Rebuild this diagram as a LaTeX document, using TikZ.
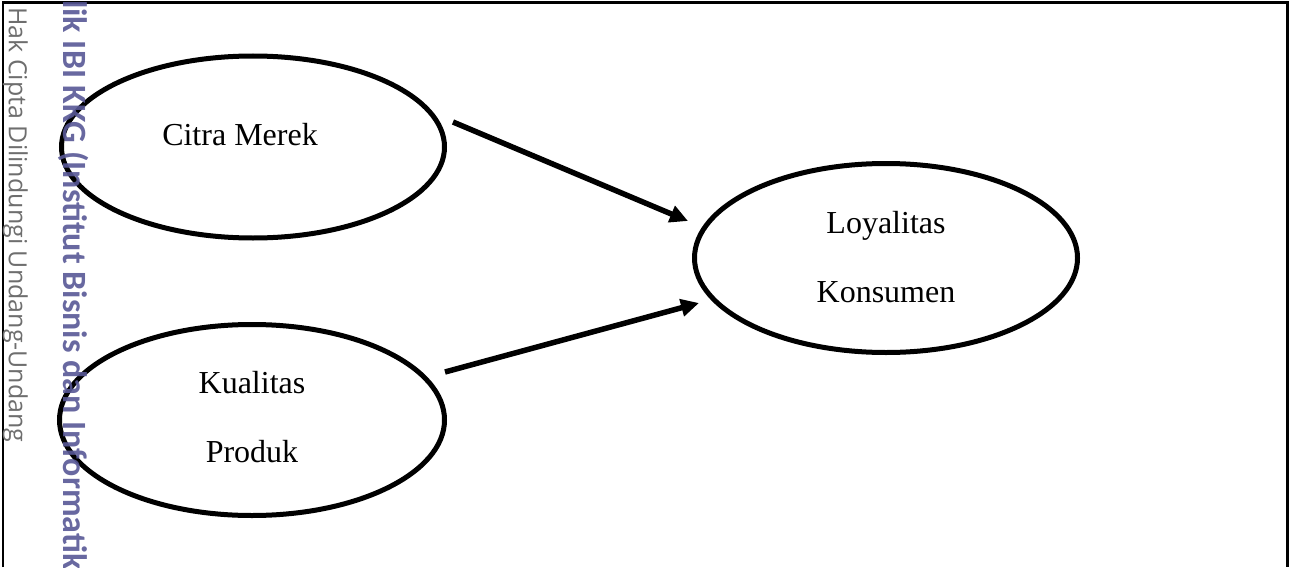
\documentclass[tikz,border=0pt]{standalone}
\usepackage{fontspec}
\setmainfont{Liberation Serif}
\newfontfamily\wmfont{Open Sans}
\newfontfamily\wmbfont{Carlito}
\usetikzlibrary{arrows.meta,shapes.geometric}
\definecolor{wmgray}{RGB}{110,110,110}
\definecolor{wmblue}{RGB}{88,88,150}
\begin{document}
\begin{tikzpicture}[x=1pt,y=-1pt,
  oval/.style={draw, ellipse, line width=5pt, inner sep=0pt},
  lbl/.style={font=\fontsize{32}{38}\selectfont, inner sep=0pt, anchor=base},
  arr/.style={line width=5.5pt, -{Triangle[length=18pt,width=17pt]}},
  wmA/.style={font=\wmfont\fontsize{25}{30}\selectfont, text=wmgray, inner sep=0pt, rotate=-90, anchor=base west},
  wmB/.style={font=\wmbfont\bfseries\fontsize{34}{40}\selectfont, text=wmblue, inner sep=0pt, rotate=-90, anchor=base west, opacity=0.9}]
\useasboundingbox (0,0) rectangle (1297,567);
\clip (0,0) rectangle (1297,567);
% frame
\draw[line width=1.5pt] (3,567) -- (3,3);
\draw[line width=3pt] (2,3) -- (1287,3) -- (1287,567);
% ellipses
\node[oval, minimum width=383pt, minimum height=182pt] (cm) at (253,147) {};
\node[oval, minimum width=383pt, minimum height=189pt] (lk) at (886,258) {};
\node[oval, minimum width=385pt, minimum height=191pt] (kp) at (252,420) {};
% labels
\node[lbl] (t1) at (240,146) {Citra Merek};
\node[lbl] (t2) at (886,233) {Loyalitas};
\node[lbl] (t3) at (886,302) {Konsumen};
\node[lbl] (t4) at (252,393) {Kualitas};
\node[lbl] (t5) at (252,462) {Produk};
% arrows
\coordinate (a1s) at (453,122);
\coordinate (a1e) at (688,221);
\coordinate (a2s) at (445,372);
\coordinate (a2e) at (699,303);
\draw[arr] (a1s) -- (a1e);
\draw[arr] (a2s) -- (a2e);
% watermarks
\node[wmA] (w1) at (9,7) {Hak Cipta Dilindungi Undang-Undang};
\node[wmB] (w2) at (63,-36) {milik IBI KKG (Institut Bisnis dan Informatika Kwik Kian Gie)};
\end{tikzpicture}
\end{document}
